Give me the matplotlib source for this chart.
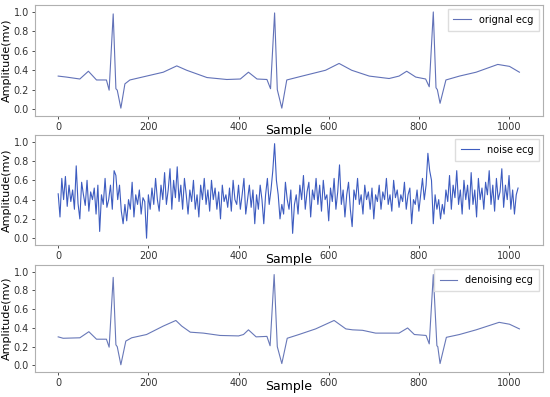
import numpy as np
import matplotlib.pyplot as plt

# original ecg, key vertices (sample, mv)
orig_x = [0, 18, 48, 67, 85, 107, 113, 122, 128, 131, 139, 148, 159, 196, 233, 263, 285,
          330, 374, 404, 422, 441, 463, 471, 480, 486, 496, 507, 541, 593, 623, 651, 690,
          734, 756, 773, 793, 815, 823, 832, 838, 841, 847, 860, 890, 927, 975, 1001, 1023]
orig_y = [0.34, 0.33, 0.31, 0.39, 0.30, 0.30, 0.195, 0.98, 0.21, 0.195, 0.01, 0.26, 0.30, 0.34,
          0.38, 0.445, 0.40, 0.325, 0.305, 0.31, 0.38, 0.31, 0.305, 0.21, 0.99, 0.20, 0.01,
          0.30, 0.34, 0.40, 0.47, 0.40, 0.34, 0.315, 0.34, 0.39, 0.33, 0.31, 0.23, 1.0, 0.22,
          0.20, 0.06, 0.30, 0.34, 0.38, 0.46, 0.44, 0.38]

# noise ecg, every 4th sample
noise_y = [
    0.46, 0.22, 0.62, 0.40, 0.64, 0.33, 0.55, 0.38, 0.50, 0.30, 0.75, 0.36, 0.20, 0.58, 0.45, 0.34,
    0.60, 0.28, 0.48, 0.40, 0.52, 0.25, 0.55, 0.07, 0.45, 0.35, 0.62, 0.32, 0.40, 0.55, 0.30, 0.70,
    0.65, 0.40, 0.55, 0.28, 0.15, 0.35, 0.18, 0.40, 0.30, 0.58, 0.22, 0.45, 0.35, 0.50, 0.25, 0.42,
    0.38, 0.00, 0.45, 0.30, 0.52, 0.35, 0.62, 0.40, 0.28, 0.55, 0.40, 0.68, 0.35, 0.50, 0.72, 0.30,
    0.60, 0.42, 0.74, 0.38, 0.55, 0.30, 0.62, 0.45, 0.25, 0.50, 0.38, 0.60, 0.30, 0.45, 0.22, 0.55,
    0.40, 0.62, 0.35, 0.50, 0.28, 0.60, 0.40, 0.52, 0.30, 0.48, 0.20, 0.55, 0.38, 0.45, 0.32, 0.52,
    0.28, 0.60, 0.40, 0.35, 0.55, 0.30, 0.45, 0.62, 0.25, 0.40, 0.55, 0.32, 0.50, 0.15, 0.45, 0.30,
    0.55, 0.40, 0.15, 0.45, 0.62, 0.35, 0.50, 0.70, 0.98, 0.60, 0.45, 0.20, 0.35, 0.25, 0.58, 0.40,
    0.30, 0.50, 0.05, 0.35, 0.45, 0.25, 0.55, 0.40, 0.65, 0.30, 0.48, 0.58, 0.22, 0.50, 0.40, 0.62,
    0.35, 0.55, 0.28, 0.60, 0.40, 0.45, 0.18, 0.52, 0.38, 0.62, 0.30, 0.48, 0.76, 0.35, 0.50, 0.22,
    0.45, 0.58, 0.30, 0.12, 0.50, 0.40, 0.62, 0.35, 0.45, 0.25, 0.55, 0.40, 0.48, 0.30, 0.52, 0.20,
    0.45, 0.38, 0.55, 0.30, 0.48, 0.40, 0.62, 0.35, 0.45, 0.28, 0.60, 0.42, 0.50, 0.32, 0.45, 0.38,
    0.58, 0.30, 0.45, 0.52, 0.15, 0.40, 0.35, 0.50, 0.28, 0.45, 0.62, 0.40, 0.55, 0.88, 0.70, 0.60,
    0.15, 0.45, 0.30, 0.40, 0.20, 0.35, 0.25, 0.50, 0.38, 0.65, 0.30, 0.55, 0.42, 0.70, 0.35, 0.50,
    0.25, 0.60, 0.40, 0.55, 0.30, 0.68, 0.35, 0.50, 0.22, 0.62, 0.40, 0.52, 0.30, 0.58, 0.45, 0.70,
    0.35, 0.55, 0.28, 0.62, 0.40, 0.48, 0.72, 0.32, 0.55, 0.40, 0.65, 0.30, 0.50, 0.25, 0.45, 0.52,
]
noise_x = np.arange(0, 4 * len(noise_y), 4)

# denoised ecg vertices
den_x = [0, 11, 48, 68, 85, 107, 113, 122, 128, 131, 139, 150, 163, 196, 233, 261, 274, 293,
         322, 359, 400, 411, 422, 439, 463, 470, 479, 486, 496, 508, 534, 571, 612, 638, 653,
         675, 704, 756, 775, 790, 816, 823, 832, 840, 842, 847, 861, 890, 927, 978, 1001, 1023]
den_y = [0.305, 0.29, 0.295, 0.36, 0.28, 0.28, 0.195, 0.94, 0.22, 0.20, 0.007, 0.26, 0.295,
         0.33, 0.42, 0.48, 0.42, 0.355, 0.345, 0.32, 0.315, 0.33, 0.38, 0.305, 0.31, 0.21,
         0.97, 0.20, 0.02, 0.29, 0.33, 0.39, 0.48, 0.39, 0.38, 0.375, 0.345, 0.345, 0.40,
         0.33, 0.32, 0.23, 0.97, 0.21, 0.20, 0.02, 0.30, 0.33, 0.38, 0.46, 0.44, 0.39]

series = [(orig_x, orig_y, "orignal ecg", "#6272b8"),
          (noise_x, noise_y, "noise ecg", "#3d5cc0"),
          (den_x, den_y, "denoising ecg", "#6878b8")]

fig = plt.figure(figsize=(5.5, 3.97), dpi=100)
boxes = [[0.064, 0.708, 0.923, 0.279],
         [0.064, 0.383, 0.923, 0.277],
         [0.064, 0.063, 0.923, 0.269]]

for (x, y, name, col), box in zip(series, boxes):
    ax = fig.add_axes(box)
    ax.plot(x, y, color=col, lw=0.8, label=name)
    ax.set_xlim(-51, 1075)
    ax.set_ylim(-0.07, 1.07)
    ax.set_xticks([0, 200, 400, 600, 800, 1000])
    ax.set_yticks([0.0, 0.2, 0.4, 0.6, 0.8, 1.0])
    ax.tick_params(labelsize=7, length=2.5, width=0.6, pad=2, colors="#333333")
    for s in ax.spines.values():
        s.set_color("#b0b0b0")
        s.set_linewidth(0.8)
    ax.set_xlabel("Sample", fontsize=9, labelpad=-6)
    ax.set_ylabel("Amplitude(mv)", fontsize=8, labelpad=1)
    ax.legend(loc="upper right", fontsize=7, handlelength=1.8, borderpad=0.6,
              edgecolor="#dddddd", fancybox=False, framealpha=1, borderaxespad=0.4)

fig.savefig("out.png", dpi=100)
